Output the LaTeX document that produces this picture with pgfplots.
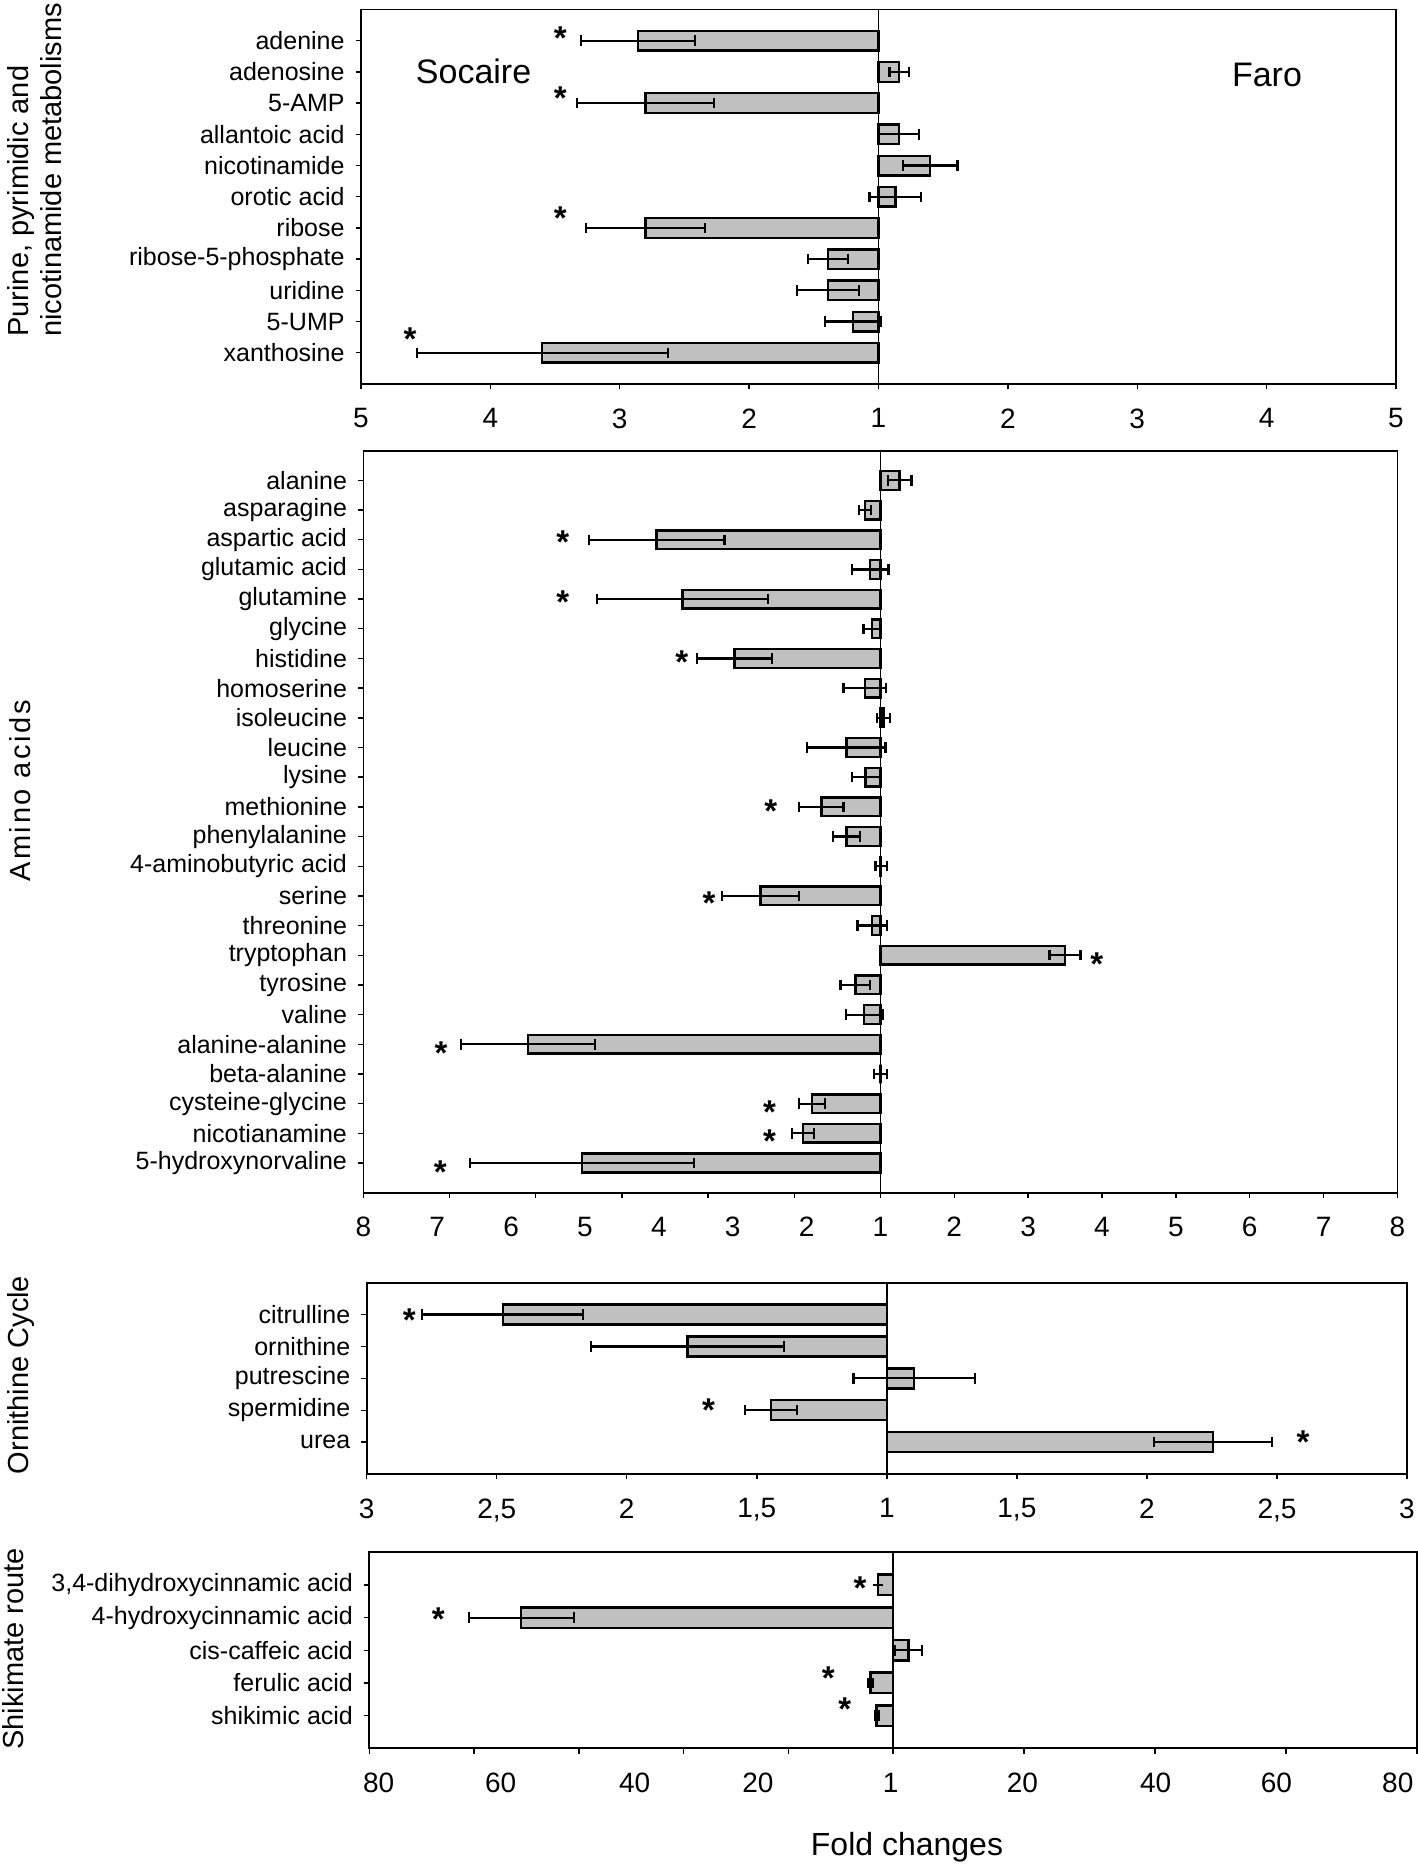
\documentclass[border=0pt]{standalone}
\usepackage{fontspec}
\setmainfont{Liberation Sans}
\newfontfamily\spacedfont[LetterSpace=9]{Liberation Sans}
\usepackage{pgfplots}
\pgfplotsset{compat=1.18}
\definecolor{barfill}{RGB}{192,192,192}

\newcommand\catfont{\fontsize{12.5}{14}\selectfont}
\newcommand\tickfont{\fontsize{14}{16}\selectfont}
\newcommand\titlefont{\fontsize{14.5}{16.5}\selectfont}
\newcommand\starfont{\fontsize{16.5}{18}\selectfont\bfseries}

\pgfplotsset{
  panel/.style={
    scale only axis, anchor=south west,
    y dir=reverse,
    axis line style={line width=0.9pt},
    tick pos=left, tick align=outside,
    major tick length=2.7pt,
    tick style={black, line width=0.7pt},
    yticklabel style={font=\catfont, xshift=-2pt},
    xticklabel style={font=\tickfont, yshift=-6pt},
    clip=false,
  },
  bars/.style={xbar, bar width=0.63, fill=barfill, draw=black, line width=1.2pt,
    error bars/x dir=both, error bars/x explicit,
    error bars/error mark=|,
    error bars/error bar style={line width=1.1pt, black},
    error bars/error mark options={black, line width=1.1pt, mark size=2.6pt}},
  stars/.style={draw=none, nodes near coords={*},
    every node near coord/.append style={font=\starfont, anchor=base, yshift=-0.58em, inner sep=0pt}},
  midline/.style={black, line width=0.9pt},
}

\begin{document}
\begin{tikzpicture}
\useasboundingbox (0,0) rectangle (709pt,932.5pt);

% Purine, pyrimidic and nicotinamide metabolisms
\begin{axis}[panel, at={(180.5pt,740.5pt)}, width=517.5pt, height=187.25pt,
  xmin=-4, xmax=4, ymin=-1, ymax=11,
  xtick={-4,-3,-2,-1,0,1,2,3,4}, xticklabels={5,4,3,2,1,2,3,4,5},
  ytick={0,...,10},
  yticklabels={adenine,adenosine,5-AMP,allantoic acid,nicotinamide,orotic acid,ribose,ribose-5-phosphate,uridine,5-UMP,xanthosine}]
\addplot[bars] coordinates {
  (-1.86,0) +- (0.44,0)
  (0.16,1) +- (0.075,0)
  (-1.80,2) +- (0.53,0)
  (0.16,3) +- (0.155,0)
  (0.40,4) +- (0.21,0)
  (0.13,5) +- (0.20,0)
  (-1.80,6) +- (0.46,0)
  (-0.39,7) +- (0.157,0)
  (-0.39,8) +- (0.24,0)
  (-0.195,9) +- (0.217,0)
  (-2.60,10) +- (0.97,0)
};
\addplot[stars] coordinates {(-2.46,-0.1) (-2.46,1.82) (-2.46,5.68) (-3.62,9.54)};
\addplot[midline] coordinates {(0,-1) (0,11)};
\end{axis}

% Amino acids
\begin{axis}[panel, at={(181.7pt,336.15pt)}, width=517pt, height=371pt,
  xmin=-7, xmax=7, ymin=-1, ymax=24,
  xtick={-7,-5.8333,-4.6667,-3.5,-2.3333,-1.1667,0,1,2,3,4,5,6,7},
  xticklabel=\empty,
  extra x ticks={-7,-6,-5,-4,-3,-2,-1,0,1,2,3,4,5,6,7},
  extra x tick labels={8,7,6,5,4,3,2,1,2,3,4,5,6,7,8},
  extra x tick style={tick style={draw=none}},
  ytick={0,...,23},
  yticklabels={alanine,asparagine,aspartic acid,glutamic acid,glutamine,glycine,histidine,homoserine,isoleucine,leucine,lysine,methionine,phenylalanine,4-aminobutyric acid,serine,threonine,tryptophan,tyrosine,valine,alanine-alanine,beta-alanine,cysteine-glycine,nicotianamine,5-hydroxynorvaline}]
\addplot[bars] coordinates {
  (0.26,0) +- (0.16,0)
  (-0.21,1) +- (0.08,0)
  (-3.03,2) +- (0.92,0)
  (-0.14,3) +- (0.25,0)
  (-2.68,4) +- (1.16,0)
  (-0.11,5) +- (0.12,0)
  (-1.975,6) +- (0.51,0)
  (-0.21,7) +- (0.29,0)
  (0.04,8) +- (0.09,0)
  (-0.46,9) +- (0.53,0)
  (-0.20,10) +- (0.19,0)
  (-0.80,11) +- (0.30,0)
  (-0.46,12) +- (0.18,0)
  (0.01,13) +- (0.077,0)
  (-1.625,14) +- (0.525,0)
  (-0.11,15) +- (0.20,0)
  (2.50,16) +- (0.21,0)
  (-0.34,17) +- (0.20,0)
  (-0.22,18) +- (0.25,0)
  (-4.77,19) +- (0.91,0)
  (0.0,20) +- (0.09,0)
  (-0.925,21) +- (0.175,0)
  (-1.05,22) +- (0.15,0)
  (-4.04,23) +- (1.52,0)
};
\addplot[stars] coordinates {(-4.30,2.08) (-4.30,4.09) (-2.69,6.10) (-1.485,11.15) (-2.32,14.24)
  (2.93,16.3) (-5.95,19.29) (-1.50,21.28) (-1.50,22.26) (-5.96,23.31)};
\addplot[midline] coordinates {(0,-1) (0,24)};
\end{axis}

% Ornithine cycle
\begin{axis}[panel, at={(183.35pt,195.5pt)}, width=520.15pt, height=95.65pt,
  xmin=-2, xmax=2, ymin=-1, ymax=5,
  xtick={-2,-1.5,-1,-0.5,0,0.5,1,1.5,2},
  xticklabels={3,{2,5},2,{1,5},1,{1,5},2,{2,5},3},
  ytick={0,...,4},
  yticklabels={citrulline,ornithine,putrescine,spermidine,urea}]
\addplot[bars] coordinates {
  (-1.477,0) +- (0.31,0)
  (-0.767,1) +- (0.37,0)
  (0.105,2) +- (0.233,0)
  (-0.446,3) +- (0.10,0)
  (1.254,4) +- (0.228,0)
};
\addplot[stars] coordinates {(-1.836,0.18) (-0.686,3.0) (1.60,4.0)};
\addplot[midline] coordinates {(0,-1) (0,5)};
\end{axis}

% Shikimate route
\begin{axis}[panel, at={(184.7pt,58.35pt)}, width=523.8pt, height=98pt,
  xmin=-79, xmax=79, ymin=-1, ymax=5,
  xtick={-79,-63.2,-47.4,-31.6,-15.8,0,19.75,39.5,59.25,79},
  xticklabel=\empty,
  extra x ticks={-77.6,-59.2,-39,-20.4,-0.4,19.5,39.6,57.8,76.1},
  extra x tick labels={80,60,40,20,1,20,40,60,80},
  extra x tick style={tick style={draw=none}},
  ytick={0,...,4},
  yticklabels={{3,4-dihydroxycinnamic acid},4-hydroxycinnamic acid,cis-caffeic acid,ferulic acid,shikimic acid}]
\addplot[bars] coordinates {
  (-2.3,0) +- (0,0)
  (-56.1,1) +- (7.9,0)
  (2.3,2) +- (2.1,0)
  (-3.4,3) +- (0.4,0)
  (-2.5,4) +- (0.3,0)
};
\addplot[stars] coordinates {(-5.0,0.1) (-68.6,1.05) (-9.8,2.83) (-7.3,3.8)};
\addplot[midline] coordinates {(0,-1) (0,5)};
\end{axis}

% titles and labels
\node[rotate=90, anchor=west, align=left, inner sep=0pt, font=\titlefont] at (17.25pt,764pt)
  {Purine, pyrimidic and\\nicotinamide metabolisms};
\node[rotate=90, inner sep=0pt, font=\titlefont\spacedfont] at (10pt,537pt) {Amino acids};
\node[rotate=90, inner sep=0pt, font=\titlefont] at (10.75pt,245pt) {Ornithine Cycle};
\node[rotate=90, inner sep=0pt, font=\titlefont] at (6.5pt,108pt) {Shikimate route};
\node[font=\fontsize{17}{19}\selectfont] at (236.8pt,896.6pt) {Socaire};
\node[font=\fontsize{17}{19}\selectfont] at (633.5pt,895pt) {Faro};
\node[font=\fontsize{16}{18}\selectfont] at (453.5pt,9pt) {Fold changes};
\end{tikzpicture}
\end{document}
